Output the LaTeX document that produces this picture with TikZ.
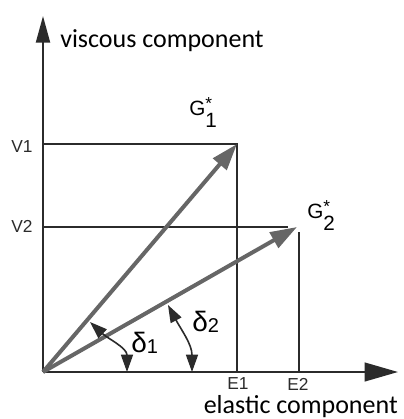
\documentclass[tikz,border=0pt]{standalone}
\usepackage{fontspec}
\setmainfont{Liberation Sans}
\newfontfamily\axisfont{Carlito}
\usetikzlibrary{arrows.meta}
\definecolor{vecgray}{HTML}{666666}
\definecolor{inkgray}{HTML}{2b2b2b}

\begin{document}
\begin{tikzpicture}[x=0.75pt,y=-0.75pt]
\tikzset{
  axisline/.style={draw=inkgray,line width=1.6pt},
  guideline/.style={draw=inkgray,line width=1.2pt},
  vector/.style={draw=vecgray,line width=3pt,-{Triangle[length=20pt,width=13pt]}},
  anglearc/.style={draw=inkgray,line width=1.2pt,{Triangle[length=13pt,width=9pt]}-{Triangle[length=13pt,width=9pt]}},
  axislabel/.style={inner sep=0pt,text=black,font=\axisfont\fontsize{19.5}{22}\selectfont},
  ticklabel/.style={inner sep=0pt,text=inkgray,font=\fontsize{13}{15}\selectfont},
  vectorlabel/.style={inner sep=0pt,text=black,font=\fontsize{15.5}{18}\selectfont},
  anglelabel/.style={inner sep=0pt,text=black,font=\fontsize{21}{23}\selectfont}
}
\useasboundingbox (0,0) rectangle (404,419);
\coordinate (n_O) at (43,372);
\coordinate (n_Ytop) at (43,16);
\coordinate (n_Xend) at (398,372);
\coordinate (n_G1) at (237,144);
\coordinate (n_G2) at (297,227);
\coordinate (n_V1) at (43,144);
\coordinate (n_E1) at (237,372);
\coordinate (n_V2) at (43,227);
\coordinate (n_V2end) at (288,227);
\coordinate (n_E2top) at (299,232);
\coordinate (n_E2) at (299,372);
\coordinate (n_d1a) at (127,372);
\coordinate (n_d1b) at (90,322);
\coordinate (n_d2a) at (192,372);
\coordinate (n_d2b) at (168,305);
\node[axislabel,anchor=base west] (n_visc) at (60,47) {viscous component};
\node[axislabel,anchor=base east] (n_elas) at (398,413) {elastic component};
\node[ticklabel] (n_V1lab) at (22,147) {V1};
\node[ticklabel] (n_V2lab) at (22,226) {V2};
\node[ticklabel] (n_E1lab) at (238,384) {E1};
\node[ticklabel] (n_E2lab) at (298,384) {E2};
\node[vectorlabel,anchor=base west] (n_G1lab) at (189,115) {G\raisebox{-0.62em}{\shortstack[l]{\fontsize{13}{9}\selectfont *\\1}}};
\node[vectorlabel,anchor=base west] (n_G2lab) at (307,218) {G\raisebox{-0.62em}{\shortstack[l]{\fontsize{13}{9}\selectfont *\\2}}};
\node[anglelabel,anchor=base west] (n_d1lab) at (131,352) {δ\raisebox{-1pt}{\fontsize{15}{16}\selectfont 1}};
\node[anglelabel,anchor=base west] (n_d2lab) at (192,331) {δ\raisebox{-1pt}{\fontsize{15}{16}\selectfont 2}};
\draw[guideline] (n_V1) -- (n_G1) -- (n_E1);
\draw[guideline] (n_V2) -- (n_V2end);
\draw[guideline] (n_E2top) -- (n_E2);
\draw[axisline,-{Triangle[length=20pt,width=10.5pt]}] (n_O) -- (n_Ytop);
\draw[axisline,-{Triangle[length=25pt,width=14pt]}] (n_O) -- (n_Xend);
\draw[vector] (n_O) -- (n_G1);
\draw[vector] (n_O) -- (n_G2);
\draw[anglearc] (n_d1a) to[out=90,in=-43] (n_d1b);
\draw[anglearc] (n_d2a) to[out=90,in=-62] (n_d2b);
\end{tikzpicture}
\end{document}
